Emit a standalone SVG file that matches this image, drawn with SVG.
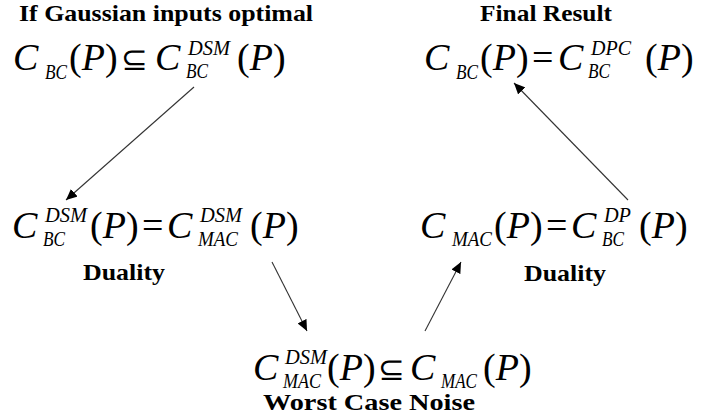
<svg xmlns="http://www.w3.org/2000/svg" width="703" height="416" viewBox="0 0 703 416">
<style>
.lbl{font-family:"Liberation Serif","Times New Roman",serif;font-weight:bold;font-size:23px;fill:#000}
.m{font-family:"Liberation Serif","Times New Roman",serif;font-size:38px;fill:#000}
.i{font-style:italic}
.s{font-family:"Liberation Serif","Times New Roman",serif;font-style:italic;font-size:20px;fill:#000}
.op{font-family:"DejaVu Sans",sans-serif;font-weight:200;font-size:32px;fill:#000}
.c{stroke:#333;stroke-width:1.1;fill:none}
</style>
<defs>
<marker id="ah" markerUnits="userSpaceOnUse" markerWidth="12" markerHeight="10" refX="11" refY="5" orient="auto">
<path d="M0,0 L11,5 L0,10 z" fill="#000"/>
</marker>
</defs>
<rect width="703" height="416" fill="#fff"/>
<g id="connectors">
<line class="c" x1="194" y1="87" x2="66" y2="200" marker-end="url(#ah)"/>
<line class="c" x1="272" y1="262" x2="307" y2="331" marker-end="url(#ah)"/>
<line class="c" x1="425" y1="331" x2="461" y2="262" marker-end="url(#ah)"/>
<line class="c" x1="628" y1="200" x2="514" y2="83" marker-end="url(#ah)"/>
</g>
<g id="n1">
<text class="lbl" x="19" y="21" textLength="294" lengthAdjust="spacingAndGlyphs">If Gaussian inputs optimal</text>
<text class="m i" x="13" y="70">C</text>
<text class="s" x="45" y="79" textLength="22" lengthAdjust="spacingAndGlyphs">BC</text>
<text class="m" x="69" y="70">(<tspan class="i">P</tspan>)</text>
<text class="op" x="121" y="70">⊆</text>
<text class="m i" x="155" y="70">C</text>
<text class="s" x="188" y="55" textLength="42" lengthAdjust="spacingAndGlyphs">DSM</text>
<text class="s" x="186" y="78" textLength="22" lengthAdjust="spacingAndGlyphs">BC</text>
<text class="m" x="237" y="70">(<tspan class="i">P</tspan>)</text>
</g>
<g id="n2">
<text class="lbl" x="480" y="21" textLength="132" lengthAdjust="spacingAndGlyphs">Final Result</text>
<text class="m i" x="424" y="70">C</text>
<text class="s" x="456" y="79" textLength="22" lengthAdjust="spacingAndGlyphs">BC</text>
<text class="m" x="480" y="70">(<tspan class="i">P</tspan>)</text>
<text class="m" x="532" y="70">=</text>
<text class="m i" x="558" y="70">C</text>
<text class="s" x="591" y="55" textLength="40" lengthAdjust="spacingAndGlyphs">DPC</text>
<text class="s" x="588" y="78" textLength="22" lengthAdjust="spacingAndGlyphs">BC</text>
<text class="m" x="645" y="70">(<tspan class="i">P</tspan>)</text>
</g>
<g id="n3">
<text class="m i" x="12" y="238">C</text>
<text class="s" x="45" y="222" textLength="42" lengthAdjust="spacingAndGlyphs">DSM</text>
<text class="s" x="43" y="246" textLength="22" lengthAdjust="spacingAndGlyphs">BC</text>
<text class="m" x="90" y="238">(<tspan class="i">P</tspan>)</text>
<text class="m" x="142" y="238">=</text>
<text class="m i" x="167" y="238">C</text>
<text class="s" x="200" y="222" textLength="42" lengthAdjust="spacingAndGlyphs">DSM</text>
<text class="s" x="198" y="246" textLength="40" lengthAdjust="spacingAndGlyphs">MAC</text>
<text class="m" x="250" y="238">(<tspan class="i">P</tspan>)</text>
<text class="lbl" x="83" y="280" textLength="82" lengthAdjust="spacingAndGlyphs">Duality</text>
</g>
<g id="n4">
<text class="m i" x="420" y="238">C</text>
<text class="s" x="452" y="246" textLength="40" lengthAdjust="spacingAndGlyphs">MAC</text>
<text class="m" x="494" y="238">(<tspan class="i">P</tspan>)</text>
<text class="m" x="546" y="238">=</text>
<text class="m i" x="571" y="238">C</text>
<text class="s" x="604" y="222" textLength="27" lengthAdjust="spacingAndGlyphs">DP</text>
<text class="s" x="602" y="246" textLength="22" lengthAdjust="spacingAndGlyphs">BC</text>
<text class="m" x="639" y="238">(<tspan class="i">P</tspan>)</text>
<text class="lbl" x="524" y="281" textLength="82" lengthAdjust="spacingAndGlyphs">Duality</text>
</g>
<g id="n5">
<text class="m i" x="253" y="380">C</text>
<text class="s" x="285" y="364" textLength="42" lengthAdjust="spacingAndGlyphs">DSM</text>
<text class="s" x="283" y="388" textLength="38" lengthAdjust="spacingAndGlyphs">MAC</text>
<text class="m" x="327" y="380">(<tspan class="i">P</tspan>)</text>
<text class="op" x="378" y="380">⊆</text>
<text class="m i" x="410" y="380">C</text>
<text class="s" x="441" y="388" textLength="36" lengthAdjust="spacingAndGlyphs">MAC</text>
<text class="m" x="483" y="380">(<tspan class="i">P</tspan>)</text>
<text class="lbl" x="263" y="410" textLength="212" lengthAdjust="spacingAndGlyphs">Worst Case Noise</text>
</g>
</svg>
